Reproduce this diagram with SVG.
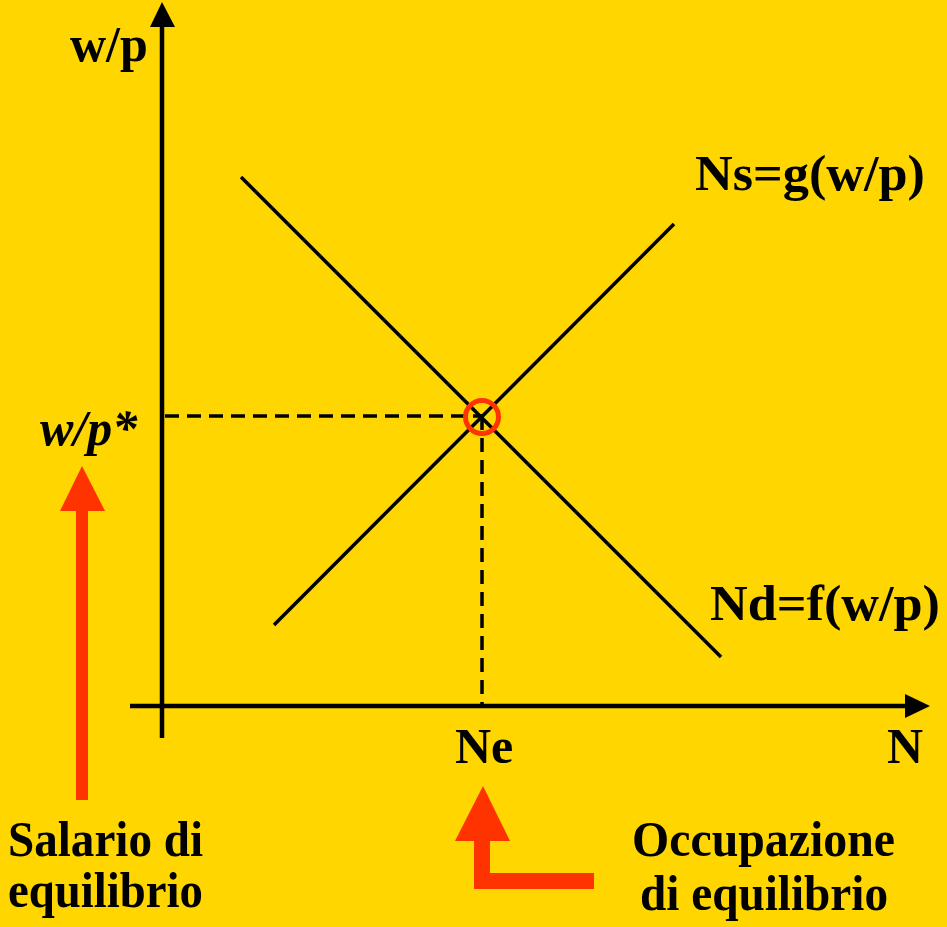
<svg xmlns="http://www.w3.org/2000/svg" width="947" height="927" viewBox="0 0 947 927">
<style>
.t{font-family:"Liberation Serif","Times New Roman",serif;font-weight:bold;font-size:50px;fill:#000}
.ax{stroke:#000;stroke-width:4.5;fill:none}
.ln{stroke:#000;stroke-width:3.5;fill:none}
.dash{stroke:#000;stroke-width:3.5;stroke-dasharray:14 8;fill:none}
.red{fill:#FF3300}
</style>
<rect width="947" height="927" fill="#FFD600"/>
<g id="connectors">
<line class="ax" x1="162" y1="738" x2="162" y2="24"/>
<polygon points="162,2 150,27 175,27" fill="#000"/>
<line class="ax" x1="130" y1="706" x2="908" y2="706"/>
<polygon points="930,706 905,694 905,718" fill="#000"/>
<line class="dash" x1="165" y1="416" x2="482" y2="416"/>
<line class="dash" x1="482" y1="416" x2="482" y2="704"/>
</g>
<g id="demand">
<line class="ln" x1="241" y1="177" x2="721" y2="657"/>
<text class="t" x="710" y="620" textLength="230" lengthAdjust="spacingAndGlyphs">Nd=f(w/p)</text>
</g>
<g id="supply">
<line class="ln" x1="274" y1="625" x2="674" y2="224"/>
<text class="t" x="695" y="190" textLength="230" lengthAdjust="spacingAndGlyphs">Ns=g(w/p)</text>
</g>
<g id="equilibrium">
<circle cx="482" cy="417" r="16.5" fill="none" stroke="#FF3300" stroke-width="5"/>
</g>
<g id="axis-labels">
<text class="t" x="70" y="61">w/p</text>
<text class="t" x="887" y="763">N</text>
<text class="t" x="455" y="763">Ne</text>
<text class="t" x="40" y="445" font-style="italic">w/p*</text>
</g>
<g id="salario">
<polygon class="red" points="82,466 60,511 105,511"/>
<rect class="red" x="76" y="510" width="12" height="290"/>
<text class="t" x="8" y="856" textLength="195" lengthAdjust="spacingAndGlyphs">Salario di</text>
<text class="t" x="8" y="907" textLength="195" lengthAdjust="spacingAndGlyphs">equilibrio</text>
</g>
<g id="occupazione">
<polygon class="red" points="483,786 455,841 510,841"/>
<path class="red" d="M474,840 H490 V873 H594 V889 H474 Z"/>
<text class="t" x="632" y="856" textLength="263" lengthAdjust="spacingAndGlyphs">Occupazione</text>
<text class="t" x="640" y="910" textLength="248" lengthAdjust="spacingAndGlyphs">di equilibrio</text>
</g>
</svg>
